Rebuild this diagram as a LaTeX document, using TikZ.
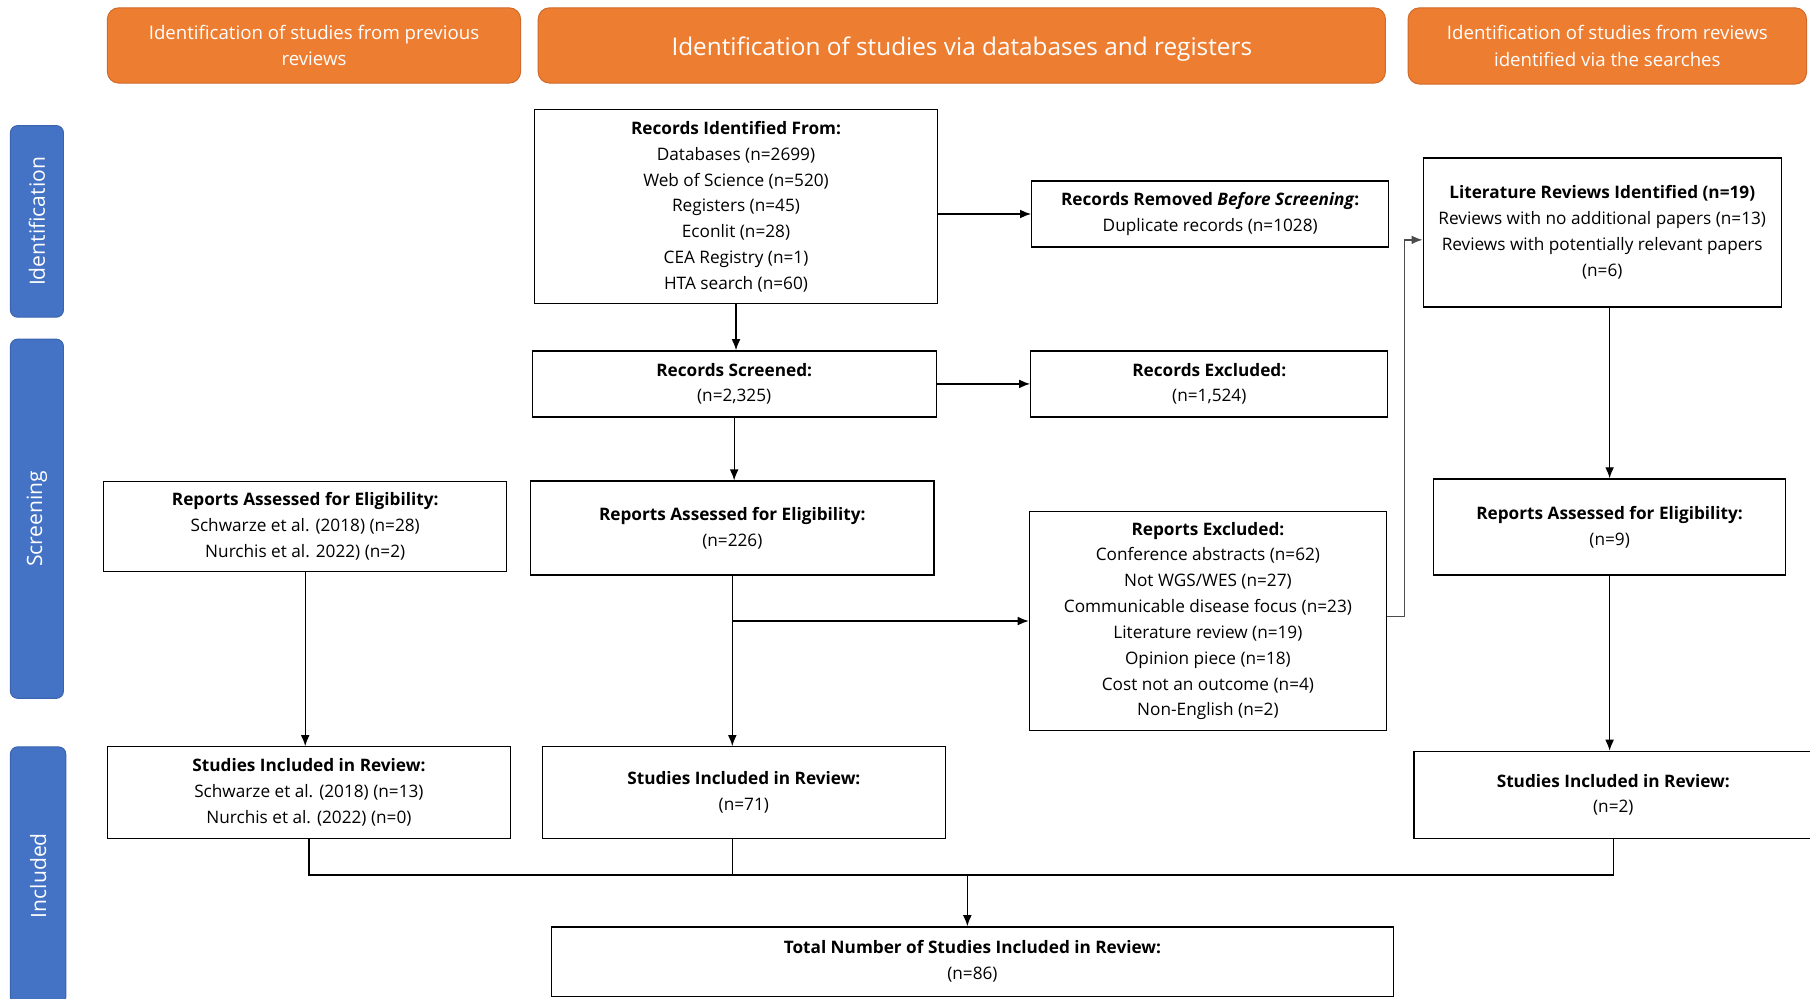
\documentclass[tikz,border=0pt]{standalone}
\usepackage{fontspec}
\setmainfont{Open Sans}
\usetikzlibrary{arrows.meta,positioning}

\definecolor{hdorange}{HTML}{ED7D31}
\definecolor{hdedge}{HTML}{CF6A2A}
\definecolor{sideblue}{HTML}{4472C4}
\definecolor{sideedge}{HTML}{3A63AE}

\begin{document}
\begin{tikzpicture}[
  header/.style={rectangle,rounded corners=7pt,draw=hdedge,fill=hdorange,line width=0.6pt,text=white,align=center,font=\fontsize{11.5}{16.3}\selectfont},
  bighead/.style={header,font=\fontsize{15}{18}\selectfont},
  side/.style={rectangle,rounded corners=4.5pt,draw=sideedge,fill=sideblue,line width=0.6pt,text=white,rotate=90,font=\fontsize{13}{15}\selectfont},
  box/.style={rectangle,draw,line width=0.8pt,align=center,inner sep=2pt,font=\fontsize{10.6}{15.9}\selectfont},
  arr/.style={-{Latex[length=2.4mm,width=1.9mm]},line width=0.8pt},
  link/.style={line width=0.8pt}
]
\useasboundingbox (0,0) rectangle (39.2,21.625);

% column headers
\node[header,minimum width=8.95cm,minimum height=1.63cm] (hdprev) at (6.8,20.64) {Identification of studies from previous\\reviews};
\node[bighead,minimum width=18.35cm,minimum height=1.63cm] (hddb) at (20.83,20.64) {\raisebox{-0.08cm}[\height][\depth]{Identification of studies via databases and registers}};
\node[header,minimum width=8.63cm,minimum height=1.65cm] (hdrev) at (34.81,20.63) {Identification of studies from reviews\\identified via the searches};

% stage bars
\node[side,minimum width=4.15cm,minimum height=1.15cm] (sideid) at (0.8,16.83) {Identification};
\node[side,minimum width=7.78cm,minimum height=1.15cm] (sidescr) at (0.8,10.39) {Screening};
\node[side,minimum width=5.58cm,minimum height=1.2cm] (sideinc) at (0.825,2.66) {Included};

% identification
\node[box,minimum width=8.73cm,minimum height=4.2cm] (recid) at (15.94,17.15) {\textbf{Records Identified From:}\\Databases (n=2699)\\Web of Science (n=520)\\Registers (n=45)\\Econlit (n=28)\\CEA Registry (n=1)\\HTA search (n=60)};
\node[box,minimum width=7.73cm,minimum height=1.43cm] (recrem) at (26.21,16.99) {\textbf{Records Removed \textit{Before Screening}:}\\Duplicate records (n=1028)};
\node[box,minimum width=7.75cm,minimum height=3.23cm] (litrev) at (34.7,16.59) {\textbf{Literature Reviews Identified (n=19)}\\Reviews with no additional papers (n=13)\\Reviews with potentially relevant papers\\(n=6)};

% screening
\node[box,minimum width=8.75cm,minimum height=1.43cm] (recscr) at (15.9,13.31) {\textbf{Records Screened:}\\(n=2,325)};
\node[box,minimum width=7.73cm,minimum height=1.43cm] (recexc) at (26.19,13.31) {\textbf{Records Excluded:}\\(n=1,524)};
\node[box,minimum width=8.73cm,minimum height=1.95cm] (repprev) at (6.61,10.225) {\textbf{Reports Assessed for Eligibility:}\\Schwarze et al. (2018) (n=28)\\Nurchis et al. 2022) (n=2)};
\node[box,minimum width=8.73cm,minimum height=2.03cm] (repdb) at (15.86,10.19) {\textbf{Reports Assessed for Eligibility:}\\(n=226)};
\node[box,minimum width=7.73cm,minimum height=4.75cm] (repexc) at (26.16,8.175) {\textbf{Reports Excluded:}\\Conference abstracts (n=62)\\Not WGS/WES (n=27)\\Communicable disease focus (n=23)\\Literature review (n=19)\\Opinion piece (n=18)\\Cost not an outcome (n=4)\\Non-English (n=2)};
\node[box,minimum width=7.63cm,minimum height=2.08cm] (reprev) at (34.86,10.21) {\textbf{Reports Assessed for Eligibility:}\\(n=9)};

% included
\node[box,minimum width=8.73cm,minimum height=1.98cm] (incprev) at (6.69,4.46) {\textbf{Studies Included in Review:}\\Schwarze et al. (2018) (n=13)\\Nurchis et al. (2022) (n=0)};
\node[box,minimum width=8.73cm,minimum height=1.98cm] (incdb) at (16.11,4.46) {\textbf{Studies Included in Review:}\\(n=71)};
\node[box,minimum width=8.63cm,minimum height=1.88cm] (increv) at (34.94,4.41) {\textbf{Studies Included in Review:}\\(n=2)};
\node[box,minimum width=18.23cm,minimum height=1.5cm] (total) at (21.06,0.8) {\textbf{Total Number of Studies Included in Review:}\\(n=86)};

\coordinate (merge) at (20.95,2.675);

% flow
\draw[arr] (recid.east |- recrem.west) -- (recrem.west);
\draw[arr] (recid.south) -- (recid.south |- recscr.north);
\draw[arr] (recscr.east) -- (recexc.west);
\draw[arr] (recscr.south) -- (recscr.south |- repdb.north);
\draw[arr] (repdb.south) -- (repdb.south |- incdb.north);
\draw[arr] (repdb.south |- repexc.west) -- (repexc.west);
\draw[arr,gray!60!black,line width=1pt] ([yshift=1mm]repexc.east) -- ++(0.375,0) |- ([yshift=-1.6mm]litrev.west);
\draw[arr] (reprev.north |- litrev.south) -- (reprev.north);
\draw[arr] (reprev.south) -- (reprev.south |- increv.north);
\draw[arr] (repprev.south) -- (repprev.south |- incprev.north);

% merge into total
\draw[link] (incprev.south) |- (increv.south |- merge) -- (increv.south);
\draw[link] (repdb.south |- incdb.south) -- (repdb.south |- merge);
\draw[arr] (merge) -- (merge |- total.north);
\end{tikzpicture}
\end{document}
